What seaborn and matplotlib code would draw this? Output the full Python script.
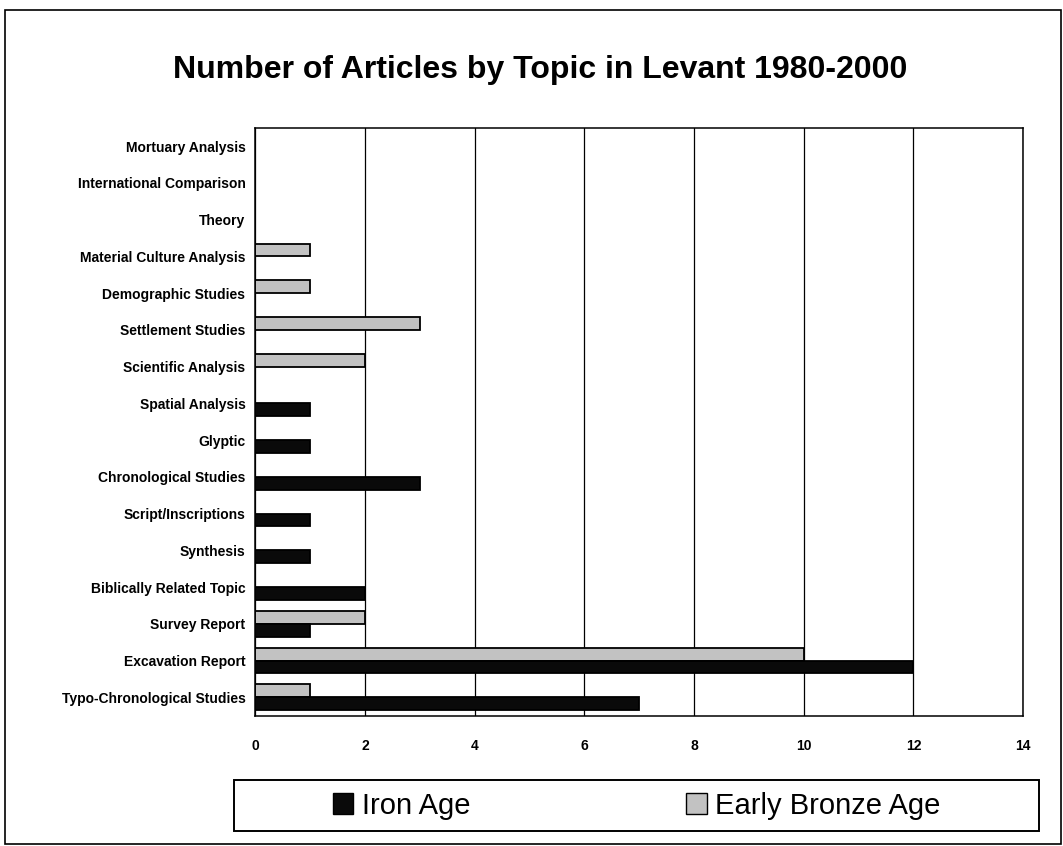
import seaborn as sns
import matplotlib.pyplot as plt
import matplotlib.patches as mpatches
from matplotlib.ticker import FixedLocator
import pandas as pd

topics = ['Mortuary Analysis', 'International Comparison', 'Theory',
          'Material Culture Analysis', 'Demographic Studies', 'Settlement Studies',
          'Scientific Analysis', 'Spatial Analysis', 'Glyptic',
          'Chronological Studies', 'Script/Inscriptions', 'Synthesis',
          'Biblically Related Topic', 'Survey Report', 'Excavation Report',
          'Typo-Chronological Studies']
iron_age = [0, 0, 0, 0, 0, 0, 0, 1, 1, 3, 1, 1, 2, 1, 12, 7]
early_bronze_age = [0, 0, 0, 1, 1, 3, 2, 0, 0, 0, 0, 0, 0, 2, 10, 1]
periods = ['Iron Age', 'Early Bronze Age']

df = pd.concat([
    pd.DataFrame({'Topic': topics, 'Articles': iron_age, 'Period': periods[0]}),
    pd.DataFrame({'Topic': topics, 'Articles': early_bronze_age, 'Period': periods[1]}),
])

sns.set_style('white')
plt.rcParams['font.family'] = ['Liberation Sans', 'DejaVu Sans']
plt.rcParams['text.color'] = 'black'
plt.rcParams['xtick.color'] = 'black'
plt.rcParams['ytick.color'] = 'black'

colors = {'Iron Age': '#0a0a0a', 'Early Bronze Age': '#c2c2c2'}

fig = plt.figure(figsize=(10.63, 8.46), dpi=100)
ax = fig.add_axes([0.240, 0.154, 0.7225, 0.695])

sns.barplot(data=df, y='Topic', x='Articles', hue='Period', order=topics,
            hue_order=['Early Bronze Age', 'Iron Age'], palette=colors,
            orient='h', width=0.7, edgecolor='black', linewidth=1.3,
            legend=False, ax=ax)

ax.set_xlim(0, 14)
ax.set_xticks(range(0, 15, 2))
ax.grid(axis='x', color='black', linewidth=0.9)
ax.set_axisbelow(True)
for s in ax.spines.values():
    s.set_color('black')
    s.set_linewidth(1.1)
ax.set_xlabel('')
ax.set_ylabel('')
ax.tick_params(axis='y', which='major', length=0, labelsize=10, pad=7)
ax.yaxis.set_minor_locator(FixedLocator([i + 0.5 for i in range(-1, len(topics))]))
ax.tick_params(axis='y', which='minor', length=4, width=1, color='black', direction='out')
ax.tick_params(axis='x', length=4, width=1, direction='inout', labelsize=10, pad=15)
for lbl in ax.get_yticklabels() + ax.get_xticklabels():
    lbl.set_fontweight('bold')
    lbl.set_color('black')

fig.text(0.508, 0.917, 'Number of Articles by Topic in Levant 1980-2000',
         ha='center', va='center', fontsize=23, fontweight='bold')

# legend box
fig.patches.append(mpatches.Rectangle((0.220, 0.0177), 0.757, 0.060, transform=fig.transFigure,
                                      fill=False, edgecolor='black', linewidth=1.4))
handles = [mpatches.Patch(facecolor=colors[p], edgecolor='black', label=p) for p in periods]
fig.legend(handles=handles, loc='center', ncol=2,
           bbox_to_anchor=(0.599, 0.0477), fontsize=21, frameon=False,
           handlelength=0.7, handleheight=0.7, handletextpad=0.3,
           columnspacing=7.4)

fig.patches.append(mpatches.Rectangle((0.005, 0.002), 0.993, 0.986, transform=fig.transFigure,
                                      fill=False, edgecolor='black', linewidth=1.2))

fig.savefig('out.png', dpi=100)
